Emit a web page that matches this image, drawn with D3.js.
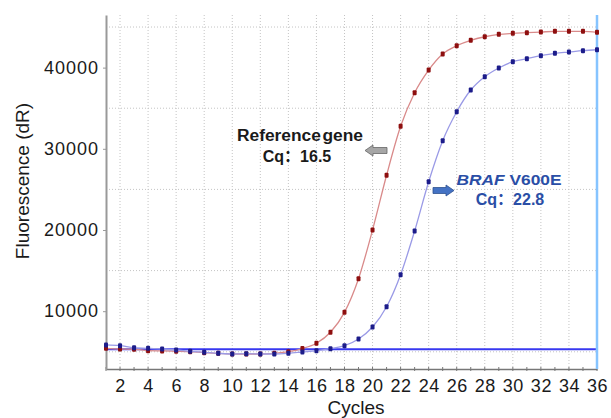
<!DOCTYPE html>
<html>
<head>
<meta charset="utf-8">
<script src="https://cdn.jsdelivr.net/npm/d3@7"></script>
<style>
  body { margin: 0; background: #fff; }
  text { font-family: Arial, "Liberation Sans", "Noto Sans CJK SC", sans-serif; }
</style>
</head>
<body>
<div id="chart"></div>
<script>
// cycles 1..36
var cycles = d3.range(1, 37);
var refGene = [5430, 5345, 5310, 5135, 5100, 5060, 5010, 4890, 4815, 4730, 4730, 4730, 4815, 5010, 5400,
  6050, 7400, 9860, 14000, 20000, 26740, 32770, 36910, 39700, 41680, 42700, 43360, 43800, 44100, 44220,
  44300, 44380, 44470, 44470, 44470, 44350];
var braf = [5840, 5750, 5500, 5430, 5345, 5220, 5060, 4940, 4815, 4730, 4770, 4730, 4730, 4815, 4975,
  5135, 5380, 5750, 6580, 8050, 10550, 14500, 19880, 25950, 31000, 34570, 37240, 38880, 39950, 40730,
  41100, 41470, 41760, 41920, 42080, 42200];
var threshold = 5310;
var xTicks = d3.range(2, 37, 2);
var yTicks = [10000, 20000, 30000, 40000];
var yGrid = [5000, 15000, 25000, 35000, 45000];

var margin = {top: 15, right: 14, bottom: 49, left: 106},
  width = 611 - margin.left - margin.right,
  height = 418 - margin.top - margin.bottom;

var svg = d3.select("#chart")
  .append("svg")
    .attr("width", 611)
    .attr("height", 418)
  .append("g")
    .attr("transform", "translate(" + margin.left + "," + margin.top + ")");

var x = d3.scaleLinear().domain([1, 36]).range([0, width]);
var y = d3.scaleLinear().domain([2880, 46480]).range([height, 0]);

// dotted grid
svg.append("g")
  .selectAll("line")
  .data(xTicks.slice(0, -1))
  .enter().append("line")
    .attr("x1", function(d) { return x(d); })
    .attr("x2", function(d) { return x(d); })
    .attr("y1", 0)
    .attr("y2", height)
    .style("stroke", "#c4c4c4")
    .style("stroke-dasharray", "1,2");

svg.append("g")
  .selectAll("line")
  .data(yGrid)
  .enter().append("line")
    .attr("x1", 0)
    .attr("x2", width)
    .attr("y1", function(d) { return y(d); })
    .attr("y2", function(d) { return y(d); })
    .style("stroke", "#c4c4c4")
    .style("stroke-dasharray", "1,2");

// axes
var xAxis = svg.append("g")
  .attr("transform", "translate(0," + height + ")")
  .call(d3.axisBottom(x).tickValues(xTicks).tickSize(0).tickPadding(10));
xAxis.select(".domain").style("stroke", "#777").style("stroke-width", 1.5);
xAxis.selectAll("text").style("font-size", "18px").style("letter-spacing", "0.5px").style("fill", "#1a1a1a");

svg.append("g")
  .attr("transform", "translate(0," + height + ")")
  .selectAll("line")
  .data(cycles)
  .enter().append("line")
    .attr("x1", function(d) { return x(d); })
    .attr("x2", function(d) { return x(d); })
    .attr("y1", -2)
    .attr("y2", 2)
    .style("stroke", "#777");

var yAxis = svg.append("g")
  .call(d3.axisLeft(y).tickValues(yTicks).tickSize(3).tickPadding(4).tickSizeOuter(0).tickFormat(d3.format("d")));
yAxis.select(".domain").style("stroke", "#999").style("stroke-width", 2);
yAxis.selectAll("line").style("stroke", "#999");
yAxis.selectAll("text").style("font-size", "18px").style("letter-spacing", "1px").style("fill", "#1a1a1a");

// threshold and cursor line
svg.append("line")
  .attr("x1", 0).attr("x2", width)
  .attr("y1", y(threshold)).attr("y2", y(threshold))
  .style("stroke", "#3838f0")
  .style("stroke-width", 2);

svg.append("line")
  .attr("x1", x(36)).attr("x2", x(36))
  .attr("y1", 0).attr("y2", height)
  .style("stroke", "#86c4ff")
  .style("stroke-width", 2.5);

// curves
function drawSeries(values, lineColor, dotColor) {
  var pts = cycles.map(function(c, i) { return [c, values[i]]; });
  var line = d3.line()
    .x(function(d) { return x(d[0]); })
    .y(function(d) { return y(d[1]); })
    .curve(d3.curveMonotoneX);
  svg.append("path")
    .datum(pts)
    .attr("d", line)
    .style("fill", "none")
    .style("stroke", lineColor)
    .style("stroke-width", 1.3);
  svg.append("g")
    .selectAll("rect")
    .data(pts)
    .enter().append("rect")
      .attr("x", function(d) { return x(d[0]) - 2; })
      .attr("y", function(d) { return y(d[1]) - 2.5; })
      .attr("width", 4)
      .attr("height", 5)
      .attr("rx", 1)
      .style("fill", dotColor);
}
drawSeries(refGene, "#d98a8a", "#8e0f0f");
drawSeries(braf, "#9a9ae6", "#1c1c8a");

// annotations (absolute page coords)
var page = d3.select("#chart svg");

page.append("text")
  .attr("x", 300).attr("y", 141)
  .attr("text-anchor", "middle")
  .attr("textLength", 126)
  .attr("lengthAdjust", "spacingAndGlyphs")
  .style("font-size", "16px")
  .style("font-weight", "bold")
  .style("word-spacing", "-3px")
  .style("fill", "#1a1a1a")
  .text("Reference gene");
page.append("text")
  .attr("x", 297).attr("y", 162)
  .attr("text-anchor", "middle")
  .style("font-size", "16px")
  .style("font-weight", "bold")
  .style("fill", "#1a1a1a")
  .text("Cq：16.5");

page.append("path")
  .attr("d", "M365,150.5 L373,145 L373,147.5 L387,147.5 L387,153.5 L373,153.5 L373,156 Z")
  .style("fill", "#a6a6a6")
  .style("stroke", "#666")
  .style("stroke-width", 0.8);

var braf1 = page.append("text")
  .attr("x", 509).attr("y", 185)
  .attr("text-anchor", "middle")
  .attr("textLength", 105)
  .attr("lengthAdjust", "spacingAndGlyphs")
  .style("font-size", "15px")
  .style("font-weight", "bold")
  .style("fill", "#2a4ea6");
braf1.append("tspan").style("font-style", "italic").text("BRAF");
braf1.append("tspan").text(" V600E");

page.append("text")
  .attr("x", 510).attr("y", 205)
  .attr("text-anchor", "middle")
  .style("font-size", "16px")
  .style("font-weight", "bold")
  .style("fill", "#2a4ea6")
  .text("Cq：22.8");

page.append("path")
  .attr("d", "M433,187.5 L446,187.5 L446,185 L454,190.5 L446,196 L446,193.5 L433,193.5 Z")
  .style("fill", "#4472c4")
  .style("stroke", "#2f528f")
  .style("stroke-width", 0.8);

// axis titles
page.append("text")
  .attr("x", 356).attr("y", 414)
  .attr("text-anchor", "middle")
  .style("font-size", "19px")
  .style("fill", "#1a1a1a")
  .text("Cycles");

page.append("text")
  .attr("text-anchor", "middle")
  .attr("transform", "translate(29,181) rotate(-90)")
  .style("font-size", "19px")
  .style("fill", "#1a1a1a")
  .text("Fluorescence (dR)");
</script>
</body>
</html>
